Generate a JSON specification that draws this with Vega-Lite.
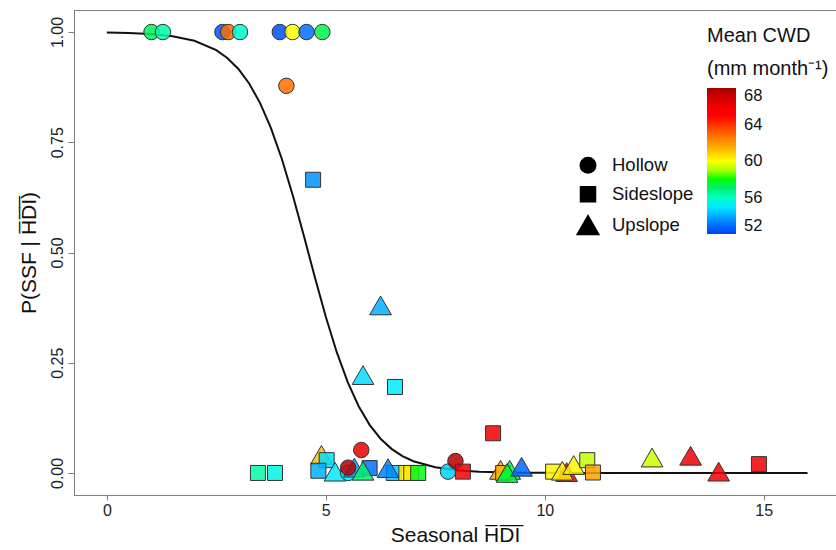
{
  "$schema": "https://vega.github.io/schema/vega-lite/v6.json",
  "width": 762,
  "height": 485,
  "autosize": {"type": "none"},
  "padding": {"left": 74, "top": 10, "right": 0, "bottom": 55},
  "config": {
    "font": "Liberation Sans",
    "view": {"stroke": "#808080", "strokeWidth": 1},
    "axis": {"grid": false, "domainColor": "#808080", "tickColor": "#808080", "labelColor": "#222222", "titleColor": "#111111", "labelFont": "Liberation Sans", "titleFont": "Liberation Sans", "labelFontSize": 16, "titleFontSize": 21, "titleFontWeight": "normal"},
    "legend": {"labelFont": "Liberation Sans", "titleFont": "Liberation Sans", "labelColor": "#111111", "titleColor": "#111111", "padding": 0}
  },
  "layer": [
    {
      "data": {"values": [
        {"hdi": 0, "p": 0.99899}, {"hdi": 0.5, "p": 0.99787}, {"hdi": 1, "p": 0.9955}, {"hdi": 1.5, "p": 0.99053},
        {"hdi": 2, "p": 0.98016}, {"hdi": 2.5, "p": 0.95891}, {"hdi": 2.75, "p": 0.94131}, {"hdi": 3, "p": 0.91683},
        {"hdi": 3.25, "p": 0.88339}, {"hdi": 3.5, "p": 0.83891}, {"hdi": 3.75, "p": 0.78161}, {"hdi": 4, "p": 0.71095},
        {"hdi": 4.25, "p": 0.62829}, {"hdi": 4.5, "p": 0.53744}, {"hdi": 4.75, "p": 0.44399}, {"hdi": 5, "p": 0.35434},
        {"hdi": 5.25, "p": 0.27388}, {"hdi": 5.5, "p": 0.20587}, {"hdi": 5.75, "p": 0.15123}, {"hdi": 6, "p": 0.1091},
        {"hdi": 6.25, "p": 0.07763}, {"hdi": 6.5, "p": 0.05468}, {"hdi": 6.75, "p": 0.03823}, {"hdi": 7, "p": 0.0266},
        {"hdi": 7.5, "p": 0.01274}, {"hdi": 8, "p": 0.00606}, {"hdi": 8.5, "p": 0.00287}, {"hdi": 9, "p": 0.00136},
        {"hdi": 9.5, "p": 0.00064}, {"hdi": 10, "p": 0.0003}, {"hdi": 11, "p": 0.00007}, {"hdi": 12, "p": 0.000015},
        {"hdi": 13, "p": 0.000003}, {"hdi": 14, "p": 0}, {"hdi": 15, "p": 0}, {"hdi": 16, "p": 0}
      ]},
      "mark": {"type": "line", "color": "#111111", "strokeWidth": 2},
      "encoding": {
        "x": {"field": "hdi", "type": "quantitative", "scale": {"domain": [-0.75, 16.65], "nice": false, "zero": false},
          "axis": {"values": [0, 5, 10, 15], "title": "Seasonal H̅D̅I̅", "tickSize": 5, "labelPadding": 2, "titlePadding": 6}},
        "y": {"field": "p", "type": "quantitative", "scale": {"domain": [-0.05, 1.05], "nice": false, "zero": false},
          "axis": {"values": [0, 0.25, 0.5, 0.75, 1], "format": ".2f", "labelAngle": -90, "tickSize": 6, "labelPadding": 3, "title": "P(SSF | H̅D̅I̅)", "titlePadding": 10}}
      }
    },
    {
      "data": {"values": [
        {"hdi": 1.02, "p": 1.0, "pos": "Hollow", "cwd": 57.2},
        {"hdi": 1.28, "p": 1.0, "pos": "Hollow", "cwd": 56.3},
        {"hdi": 2.64, "p": 1.0, "pos": "Hollow", "cwd": 52.4},
        {"hdi": 2.77, "p": 1.0, "pos": "Hollow", "cwd": 62.8},
        {"hdi": 3.04, "p": 1.0, "pos": "Hollow", "cwd": 55.8},
        {"hdi": 3.95, "p": 1.0, "pos": "Hollow", "cwd": 52.3},
        {"hdi": 4.24, "p": 1.0, "pos": "Hollow", "cwd": 60.0},
        {"hdi": 4.56, "p": 1.0, "pos": "Hollow", "cwd": 53.0},
        {"hdi": 4.92, "p": 1.0, "pos": "Hollow", "cwd": 57.3},
        {"hdi": 4.10, "p": 0.878, "pos": "Hollow", "cwd": 62.8},
        {"hdi": 3.45, "p": 0.0, "pos": "Sideslope", "cwd": 56.3},
        {"hdi": 3.84, "p": 0.0, "pos": "Sideslope", "cwd": 55.5},
        {"hdi": 4.71, "p": 0.665, "pos": "Sideslope", "cwd": 53.5},
        {"hdi": 4.90, "p": 0.041, "pos": "Upslope", "cwd": 61.2},
        {"hdi": 5.02, "p": 0.029, "pos": "Sideslope", "cwd": 54.8},
        {"hdi": 4.83, "p": 0.005, "pos": "Sideslope", "cwd": 54.0},
        {"hdi": 5.21, "p": 0.003, "pos": "Upslope", "cwd": 55.0},
        {"hdi": 5.51, "p": 0.0, "pos": "Hollow", "cwd": 55.0},
        {"hdi": 5.65, "p": 0.012, "pos": "Upslope", "cwd": 53.8},
        {"hdi": 5.51, "p": 0.012, "pos": "Hollow", "cwd": 67.5},
        {"hdi": 5.81, "p": 0.052, "pos": "Hollow", "cwd": 66.3},
        {"hdi": 6.0, "p": 0.011, "pos": "Sideslope", "cwd": 53.0},
        {"hdi": 5.85, "p": 0.005, "pos": "Upslope", "cwd": 57.0},
        {"hdi": 5.85, "p": 0.222, "pos": "Upslope", "cwd": 54.8},
        {"hdi": 6.25, "p": 0.38, "pos": "Upslope", "cwd": 54.0},
        {"hdi": 6.55, "p": 0.0, "pos": "Sideslope", "cwd": 54.5},
        {"hdi": 6.42, "p": 0.011, "pos": "Upslope", "cwd": 53.3},
        {"hdi": 6.58, "p": 0.195, "pos": "Sideslope", "cwd": 55.0},
        {"hdi": 6.84, "p": 0.0, "pos": "Sideslope", "cwd": 60.2},
        {"hdi": 6.95, "p": 0.0, "pos": "Sideslope", "cwd": 60.5},
        {"hdi": 7.11, "p": 0.0, "pos": "Sideslope", "cwd": 57.8},
        {"hdi": 7.79, "p": 0.003, "pos": "Hollow", "cwd": 54.6},
        {"hdi": 7.96, "p": 0.027, "pos": "Hollow", "cwd": 67.5},
        {"hdi": 8.13, "p": 0.003, "pos": "Sideslope", "cwd": 66.0},
        {"hdi": 8.82, "p": 0.09, "pos": "Sideslope", "cwd": 66.0},
        {"hdi": 8.99, "p": 0.007, "pos": "Upslope", "cwd": 61.5},
        {"hdi": 9.05, "p": 0.0, "pos": "Sideslope", "cwd": 61.5},
        {"hdi": 9.2, "p": 0.007, "pos": "Upslope", "cwd": 57.2},
        {"hdi": 9.14, "p": 0.0, "pos": "Upslope", "cwd": 57.6},
        {"hdi": 9.47, "p": 0.014, "pos": "Upslope", "cwd": 52.8},
        {"hdi": 10.19, "p": 0.003, "pos": "Sideslope", "cwd": 60.2},
        {"hdi": 10.5, "p": 0.002, "pos": "Upslope", "cwd": 66.0},
        {"hdi": 10.4, "p": 0.005, "pos": "Upslope", "cwd": 60.3},
        {"hdi": 10.66, "p": 0.018, "pos": "Upslope", "cwd": 60.2},
        {"hdi": 10.97, "p": 0.029, "pos": "Sideslope", "cwd": 59.3},
        {"hdi": 11.1, "p": 0.001, "pos": "Sideslope", "cwd": 61.8},
        {"hdi": 12.45, "p": 0.035, "pos": "Upslope", "cwd": 59.4},
        {"hdi": 13.33, "p": 0.039, "pos": "Upslope", "cwd": 66.0},
        {"hdi": 13.97, "p": 0.003, "pos": "Upslope", "cwd": 66.0},
        {"hdi": 14.89, "p": 0.02, "pos": "Sideslope", "cwd": 66.0}
      ]},
      "mark": {"type": "point", "filled": true, "fillOpacity": 0.85, "stroke": "#333333", "strokeWidth": 1, "strokeOpacity": 1},
      "encoding": {
        "x": {"field": "hdi", "type": "quantitative"},
        "y": {"field": "p", "type": "quantitative"},
        "order": {"value": 0},
        "shape": {"field": "pos", "type": "nominal",
          "scale": {"domain": ["Hollow", "Sideslope", "Upslope"], "range": ["circle", "square", "triangle-up"]},
          "legend": {"orient": "none", "legendX": 502, "legendY": 146, "title": null, "labelFontSize": 18.5, "symbolFillColor": "black", "symbolStrokeColor": "black", "symbolOpacity": 1, "rowPadding": 7, "labelOffset": 12}},
        "size": {"field": "pos", "type": "nominal",
          "scale": {"type": "ordinal", "domain": ["Hollow", "Sideslope", "Upslope"], "range": [240, 225, 470]},
          "legend": {"orient": "none", "legendX": 502, "legendY": 146, "title": null, "labelFontSize": 18.5, "symbolFillColor": "black", "symbolStrokeColor": "black", "symbolOpacity": 1, "rowPadding": 7, "labelOffset": 12}},
        "color": {"field": "cwd", "type": "quantitative",
          "scale": {"domain": [52, 53, 54, 55, 56, 57, 58, 59, 60, 61, 62, 63, 64, 65, 66, 67, 68],
                    "range": ["#0040ff", "#0070ff", "#00b0ff", "#00eaff", "#00ffc0", "#00f070", "#00ff00", "#a8ff00", "#ffff00", "#ffc800", "#ff9600", "#ff6400", "#ff3000", "#ff0000", "#f00000", "#d00000", "#a00000"],
                    "interpolate": "rgb"},
          "legend": {"orient": "none", "legendX": 633, "legendY": 16, "direction": "vertical", "gradientLength": 146, "gradientThickness": 29,
            "title": ["\u00a0\u00a0Mean CWD", "(mm month⁻¹)"], "titleFontSize": 20, "titleFontWeight": "normal", "titleAlign": "left", "titleAnchor": "start",
            "titleLineHeight": 33, "titlePadding": 9, "labelFontSize": 16.5, "labelOffset": 8, "labelBaseline": "middle", "values": [52, 56, 60, 64, 68], "gradientStrokeWidth": 0}}
      }
    }
  ]
}
